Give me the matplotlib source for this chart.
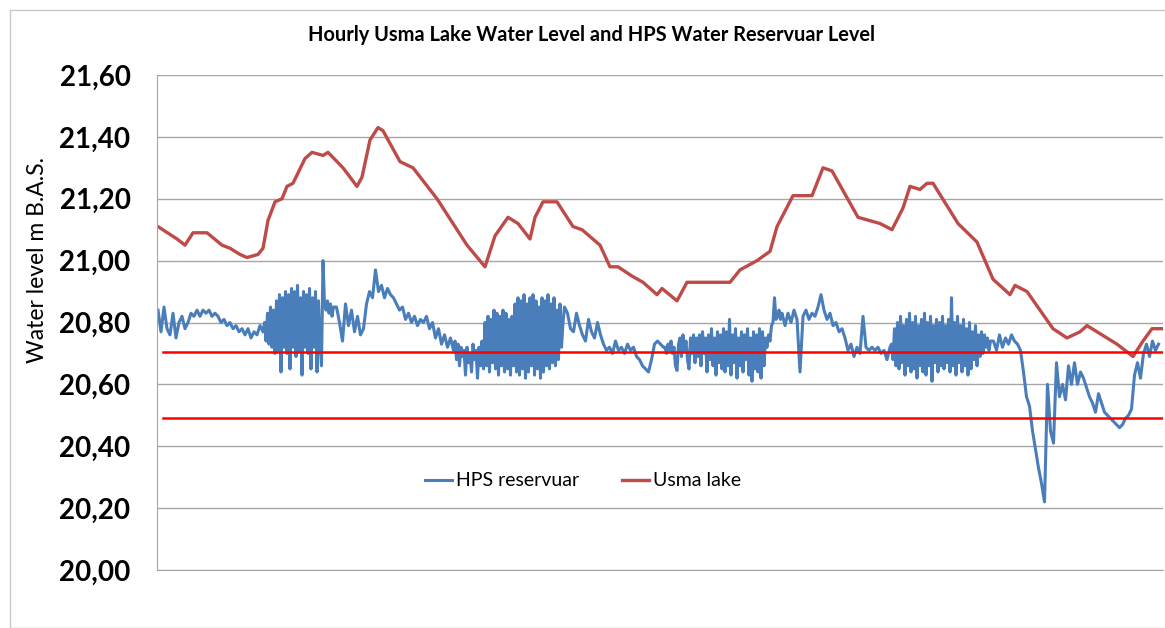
import matplotlib
matplotlib.use("Agg")
from matplotlib import pyplot as plt
from matplotlib.patches import Rectangle
import numpy as np

# Usma lake, hourly level (m B.A.S.) - hour index / level
lake_hours = [0, 5, 100, 140, 180, 250, 325, 365, 415, 450, 505, 530, 555, 590, 625,
              650, 680, 740, 775, 830, 855, 930, 1000, 1025, 1065, 1105, 1130, 1215,
              1280, 1400, 1550, 1640, 1690, 1755, 1805, 1865, 1890, 1930, 2000, 2080,
              2125, 2215, 2265, 2305, 2375, 2430, 2500, 2525, 2600, 2650, 2765, 2865,
              2915, 3000, 3065, 3100, 3180, 3275, 3330, 3375, 3505, 3615, 3675, 3730,
              3765, 3815, 3850, 3880, 4005, 4100, 4180, 4265, 4290, 4350, 4480, 4550,
              4615, 4650, 4800, 4880, 4930, 4975, 5025]
lake_level = [21.11, 21.11, 21.07, 21.05, 21.09, 21.09, 21.05, 21.04, 21.02, 21.01,
              21.02, 21.04, 21.13, 21.19, 21.20, 21.24, 21.25, 21.33, 21.35, 21.34,
              21.35, 21.30, 21.24, 21.27, 21.39, 21.43, 21.42, 21.32, 21.30, 21.20,
              21.05, 20.98, 21.08, 21.14, 21.12, 21.07, 21.14, 21.19, 21.19, 21.11,
              21.10, 21.05, 20.98, 20.98, 20.95, 20.93, 20.89, 20.91, 20.87, 20.93,
              20.93, 20.93, 20.97, 21.00, 21.03, 21.11, 21.21, 21.21, 21.30, 21.29,
              21.14, 21.12, 21.10, 21.17, 21.24, 21.23, 21.25, 21.25, 21.12, 21.06,
              20.94, 20.89, 20.92, 20.90, 20.78, 20.75, 20.77, 20.79, 20.73, 20.69,
              20.74, 20.78, 20.78]

# HPS reservoir readings, in stretches: calm parts every 15 h, fluctuating parts every 7.5 h
hps_a = [20.84, 20.77, 20.85, 20.78, 20.76, 20.83, 20.75, 20.80, 20.82, 20.78,
         20.80, 20.83, 20.82, 20.84, 20.82, 20.84, 20.83, 20.84, 20.82, 20.83,
         20.82, 20.80, 20.81, 20.79, 20.80, 20.78, 20.79, 20.77, 20.78, 20.76,
         20.78, 20.75, 20.77, 20.76, 20.79, 20.77]
hps_b = [20.80, 20.74, 20.83, 20.73, 20.85, 20.72, 20.84, 20.70, 20.87, 20.71,
         20.89, 20.64, 20.88, 20.72, 20.90, 20.70, 20.89, 20.65, 20.91, 20.72,
         20.90, 20.69, 20.92, 20.71, 20.88, 20.63, 20.90, 20.72, 20.89, 20.70,
         20.91, 20.65, 20.88, 20.72, 20.90, 20.64, 20.87, 20.73, 20.66, 21.00,
         20.86, 20.84, 20.87, 20.83, 20.86, 20.82, 20.85]
hps_c = [20.85, 20.80, 20.74, 20.86, 20.79, 20.84, 20.77, 20.82, 20.76, 20.78,
         20.86, 20.90, 20.88, 20.97, 20.90, 20.92, 20.88, 20.91, 20.89, 20.88,
         20.86, 20.84, 20.85, 20.81, 20.83, 20.80, 20.82, 20.79, 20.81, 20.80,
         20.82, 20.78, 20.80, 20.75, 20.78, 20.73, 20.76, 20.72, 20.75, 20.71]
hps_d = [20.74, 20.68, 20.73, 20.66, 20.72, 20.69, 20.71, 20.63, 20.72, 20.67,
         20.70, 20.64, 20.73, 20.68, 20.71, 20.62, 20.72, 20.66, 20.74,
         20.65, 20.80, 20.66, 20.82, 20.64, 20.81, 20.67, 20.84, 20.65, 20.83,
         20.63, 20.82, 20.66, 20.84, 20.64, 20.83, 20.65, 20.81, 20.63, 20.82,
         20.66, 20.86, 20.64, 20.88, 20.63, 20.87, 20.65, 20.89, 20.62, 20.86,
         20.64, 20.88, 20.66, 20.89, 20.63, 20.87, 20.65, 20.85, 20.62, 20.88,
         20.64, 20.87, 20.66, 20.89, 20.65, 20.86, 20.67, 20.88, 20.66, 20.84,
         20.68, 20.86, 20.72, 20.80, 20.85]
hps_e = [20.83, 20.78, 20.77, 20.83, 20.79, 20.76, 20.74, 20.81, 20.77, 20.75,
         20.80, 20.76, 20.73, 20.71, 20.72, 20.70, 20.74, 20.71, 20.72, 20.70,
         20.73, 20.71, 20.72, 20.69, 20.68, 20.66, 20.65, 20.64, 20.68, 20.73,
         20.74, 20.73, 20.72]
hps_f = [20.72, 20.70, 20.73, 20.71, 20.74, 20.70, 20.72, 20.66, 20.645, 20.73,
         20.75, 20.69, 20.76, 20.71, 20.74, 20.68, 20.65, 20.75, 20.70, 20.76,
         20.67, 20.75, 20.69, 20.76, 20.66, 20.77, 20.70, 20.75, 20.64, 20.76,
         20.68, 20.78, 20.66, 20.75, 20.63, 20.77, 20.67, 20.76, 20.65, 20.78,
         20.64, 20.77, 20.66, 20.81, 20.63, 20.76, 20.67, 20.78, 20.62, 20.75,
         20.66, 20.77, 20.64, 20.76, 20.68, 20.78, 20.63, 20.75, 20.61, 20.77,
         20.65, 20.76, 20.64, 20.78, 20.62, 20.77, 20.66, 20.75, 20.72, 20.76,
         20.74, 20.79, 20.80, 20.88, 20.81, 20.82, 20.84, 20.81, 20.83]
hps_g = [20.79, 20.83, 20.80, 20.84, 20.81, 20.64, 20.82, 20.84, 20.81, 20.83,
         20.82, 20.85, 20.89, 20.84, 20.81, 20.83, 20.79, 20.80, 20.77, 20.78,
         20.75, 20.71, 20.73, 20.69, 20.72, 20.70, 20.82, 20.72, 20.71, 20.72,
         20.71, 20.72, 20.70, 20.71, 20.68, 20.72]
hps_h = [20.73, 20.68, 20.78, 20.66, 20.80, 20.65, 20.82, 20.67, 20.79, 20.63,
         20.81, 20.66, 20.83, 20.64, 20.80, 20.65, 20.82, 20.62, 20.79, 20.66,
         20.81, 20.64, 20.83, 20.63, 20.80, 20.66, 20.82, 20.61, 20.79, 20.67,
         20.81, 20.64, 20.80, 20.66, 20.82, 20.65, 20.79, 20.67, 20.81, 20.64,
         20.88, 20.66, 20.80, 20.63, 20.82, 20.67, 20.79, 20.64, 20.81, 20.66,
         20.78, 20.63, 20.80, 20.65, 20.77, 20.68, 20.79, 20.66, 20.76, 20.69,
         20.77, 20.70, 20.76, 20.72, 20.75, 20.71, 20.74]
hps_i = [20.74, 20.71, 20.76, 20.72, 20.75, 20.73, 20.76, 20.74, 20.73, 20.71,
         20.64, 20.56, 20.53, 20.45, 20.39, 20.33, 20.28, 20.22, 20.60, 20.45,
         20.41, 20.67, 20.56, 20.60, 20.55, 20.66, 20.60, 20.67, 20.60, 20.64,
         20.62, 20.59, 20.56, 20.54, 20.51, 20.57, 20.54, 20.51, 20.50, 20.49,
         20.48, 20.47, 20.46, 20.47, 20.49, 20.50, 20.52, 20.63, 20.67, 20.62,
         20.70, 20.73, 20.69, 20.74, 20.71, 20.73]
hps_stretches = [(15, hps_a), (7.5, hps_b), (15, hps_c), (7.5, hps_d), (15, hps_e),
                 (7.5, hps_f), (15, hps_g), (7.5, hps_h), (15, hps_i)]

limit_levels = [20.705, 20.49]
y_ticks = [20.0, 20.2, 20.4, 20.6, 20.8, 21.0, 21.2, 21.4, 21.6]

title = "Hourly Usma Lake Water Level and HPS Water Reservuar Level"

# build the hour axis for the reservoir series
hps_hours = []
hps_level = []
t = 5 - 15
for step, vals in hps_stretches:
    for v in vals:
        t += step
        hps_hours.append(t)
        hps_level.append(v)

W, H = 1165, 628
fig = plt.figure(figsize=(W / 100, H / 100), dpi=100)
fig.patches.append(Rectangle((10 / W, 0), 1.2, 1 - 10 / H, transform=fig.transFigure,
                             fill=False, edgecolor="#c8c8c8", lw=1))

ax = fig.add_axes([157 / W, 1 - 570 / H, (1163 - 157) / W, (570 - 75) / H])
ax.plot(hps_hours, hps_level, color="#4a7ebb", lw=2.2, label="HPS reservuar")
ax.plot(lake_hours, lake_level, color="#be4b48", lw=2.4, label="Usma lake")
for lv in limit_levels:
    ax.axhline(lv, xmin=0.006, color="#ff0000", lw=1.8)

ax.set_xlim(0, 5030)
ax.set_ylim(20.0, 21.6)
ax.set_yticks(y_ticks)
ax.set_yticklabels([f"{v:.2f}".replace(".", ",") for v in y_ticks],
                   fontfamily="Lato", fontweight="bold", fontsize=20)
ax.set_xticks([])
ax.tick_params(axis="y", length=0, pad=19)
ax.yaxis.grid(True, color="#a6a6a6", lw=1)
ax.set_axisbelow(True)
for s in ["top", "right"]:
    ax.spines[s].set_visible(False)
ax.spines["left"].set_color("#a6a6a6")
ax.spines["bottom"].set_color("#a6a6a6")

fig.text(38 / W, 1 - 260 / H, "Water level m B.A.S.", rotation=90, ha="center",
         va="center", fontfamily="Lato", fontsize=16.5)
fig.text(592 / W, 1 - 35 / H, title, ha="center", va="center",
         fontfamily="Lato", fontweight="bold", fontsize=14.4)

ax.legend(loc="center", bbox_to_anchor=(583 / W, 1 - 481 / H),
          bbox_transform=fig.transFigure, ncol=2, frameon=False,
          prop={"family": "Lato", "size": 14}, handlelength=1.4,
          handletextpad=0.2, columnspacing=2.2)

fig.savefig("out.png", dpi=100)
